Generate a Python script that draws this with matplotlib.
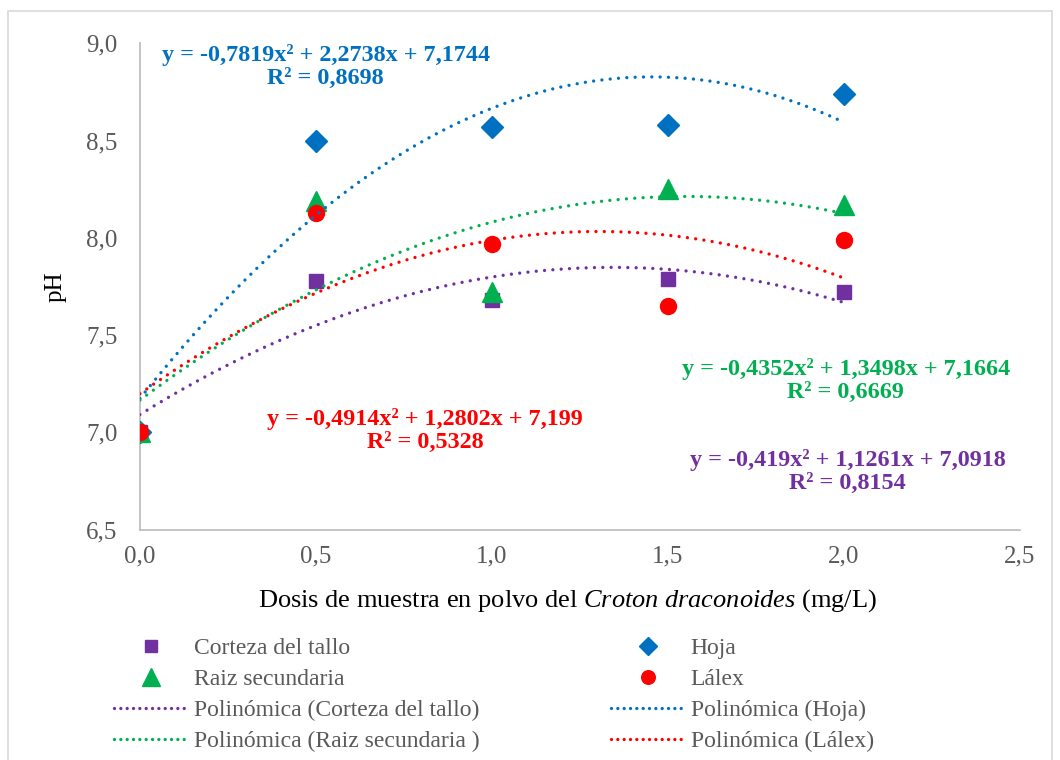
import matplotlib
matplotlib.use("Agg")
import matplotlib.pyplot as plt
import numpy as np
from matplotlib.lines import Line2D
from matplotlib.patches import Rectangle
from matplotlib.ticker import FuncFormatter, MultipleLocator

plt.rcParams['font.family'] = ['Liberation Serif', 'DejaVu Serif']
plt.rcParams['mathtext.fontset'] = 'custom'
plt.rcParams['mathtext.rm'] = 'Liberation Serif'
plt.rcParams['mathtext.it'] = 'Liberation Serif:italic'

# Dose levels (mg/L)
dosis = [0.0, 0.5, 1.0, 1.5, 2.0]

# Measured pH per plant part
corteza = [7.00, 7.78, 7.68, 7.79, 7.72]
hoja = [7.00, 8.50, 8.57, 8.58, 8.74]
raiz = [7.00, 8.19, 7.72, 8.25, 8.17]
lalex = [7.00, 8.13, 7.97, 7.65, 7.99]

# Quadratic trendline coefficients (a, b, c) and R²
coef_corteza = (-0.419, 1.1261, 7.0918)
coef_hoja = (-0.7819, 2.2738, 7.1744)
coef_raiz = (-0.4352, 1.3498, 7.1664)
coef_lalex = (-0.4914, 1.2802, 7.199)
r2_corteza = 0.8154
r2_hoja = 0.8698
r2_raiz = 0.6669
r2_lalex = 0.5328

C_PURPLE = '#7030A0'
C_BLUE = '#0070C0'
C_GREEN = '#00B050'
C_RED = '#FF0000'
GRAY_TXT = '#595959'
GRAY_AX = '#BFBFBF'

fig = plt.figure(figsize=(10.6, 7.6), dpi=100)
ax = fig.add_axes([0.132, 0.303, 0.830, 0.640])

series = [
    ('Corteza del tallo', corteza, coef_corteza, C_PURPLE, 's', 10.5),
    ('Hoja', hoja, coef_hoja, C_BLUE, 'D', 11),
    ('Raiz secundaria', raiz, coef_raiz, C_GREEN, '^', 15),
    ('Lálex', lalex, coef_lalex, C_RED, 'o', 11.5),
]

for name, vals, _, col, mk, ms in series:
    ax.plot(dosis, vals, linestyle='none', marker=mk, markersize=ms,
            color=col, markeredgecolor=col, zorder=3)

dot_style = (0, (0.001, 2.5))
xs = np.linspace(min(dosis), max(dosis), 200)
for name, vals, (a, b, c), col, mk, ms in series:
    ax.plot(xs, a * xs**2 + b * xs + c, color=col, lw=2.4,
            linestyle=dot_style, dash_capstyle='round', zorder=4)


def fmt_eq(coef, r2):
    a, b, c = coef
    s = lambda v: f"{v:g}".replace('.', ',')
    return (f"y = {s(a)}x² + {s(b)}x + {s(c)}\n"
            f"R² = {f'{r2:.4f}'.replace('.', ',')}")


eq_kw = dict(fontsize=17.4, fontweight='bold', ha='center', va='center',
             linespacing=1.12, zorder=5)
ax.text(0.528, 8.88, fmt_eq(coef_hoja, r2_hoja), color=C_BLUE, **eq_kw)
ax.text(0.81, 7.008, fmt_eq(coef_lalex, r2_lalex), color=C_RED, **eq_kw)
ax.text(2.006, 7.265, fmt_eq(coef_raiz, r2_raiz), color=C_GREEN, **eq_kw)
ax.text(2.011, 6.798, fmt_eq(coef_corteza, r2_corteza), color=C_PURPLE, **eq_kw)

ax.set_xlim(0, 2.5)
ax.set_ylim(6.5, 9.0)
ax.xaxis.set_major_locator(MultipleLocator(0.5))
ax.yaxis.set_major_locator(MultipleLocator(0.5))
comma = FuncFormatter(lambda v, p: f"{v:.1f}".replace('.', ','))
ax.xaxis.set_major_formatter(comma)
ax.yaxis.set_major_formatter(comma)
ax.tick_params(axis='both', length=0, labelsize=18, labelcolor=GRAY_TXT)
ax.tick_params(axis='x', pad=11)
ax.tick_params(axis='y', pad=16)
for side in ('top', 'right'):
    ax.spines[side].set_visible(False)
for side in ('left', 'bottom'):
    ax.spines[side].set_color(GRAY_AX)
    ax.spines[side].set_linewidth(1.3)

ax.set_xlabel(r"Dosis de muestra en polvo del $\it{Croton\ draconoides}$ (mg/L)",
              fontsize=19)
ax.xaxis.set_label_coords(0.486, -0.118)
ax.set_ylabel("pH", fontsize=18, labelpad=14)

# Legend: markers then polynomial trendlines, two columns
mk_handles = [Line2D([], [], linestyle='none', marker=mk, markersize=ms * 0.85,
                     color=col, markeredgecolor=col)
              for name, vals, coef, col, mk, ms in series]
ln_handles = [Line2D([], [], color=col, lw=2.4, linestyle=(0, (0.001, 1.9)),
                     dash_capstyle='round')
              for name, vals, coef, col, mk, ms in series]
labels_mk = [s[0] for s in series]
labels_ln = ['Polinómica (Corteza del tallo)', 'Polinómica (Hoja)',
             'Polinómica (Raiz secundaria )', 'Polinómica (Lálex)']
# column-wise ordering for ncol=2
handles = [mk_handles[0], mk_handles[2], ln_handles[0], ln_handles[2],
           mk_handles[1], mk_handles[3], ln_handles[1], ln_handles[3]]
labels = [labels_mk[0], labels_mk[2], labels_ln[0], labels_ln[2],
          labels_mk[1], labels_mk[3], labels_ln[1], labels_ln[3]]
leg = fig.legend(handles, labels, ncol=2, loc='upper left',
                 bbox_to_anchor=(0.108, 0.161), frameon=False,
                 fontsize=17, handlelength=3.1, handletextpad=0.25,
                 columnspacing=5.6, labelspacing=0.40, borderpad=0,
                 borderaxespad=0)
for t in leg.get_texts():
    t.set_color(GRAY_TXT)

fig.patches.append(Rectangle((0.008, -0.01), 0.984, 0.995, transform=fig.transFigure,
                             fill=False, edgecolor='#D9D9D9', lw=1.2))

fig.savefig('out.png', dpi=100)
